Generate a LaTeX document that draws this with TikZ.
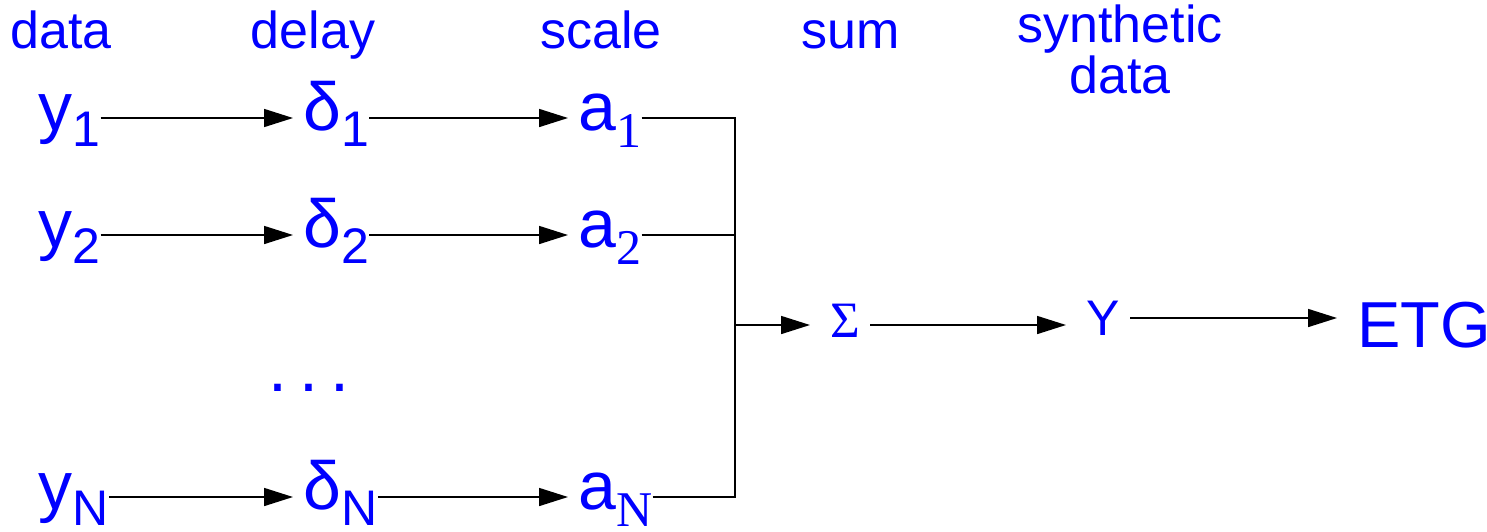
\documentclass[tikz,border=0pt]{standalone}
\usepackage{fontspec}
\setmainfont{Liberation Sans}
\newfontfamily\timesfont{Liberation Serif}
\usetikzlibrary{arrows.meta}

\newcommand{\lowsub}[1]{\raisebox{-8pt}{\fontsize{25}{25}\selectfont #1}}
\newcommand{\lowrsub}[1]{\raisebox{-8.5pt}{\timesfont\fontsize{25}{25}\selectfont #1}}

\tikzset{
  head/.style={text=blue, anchor=base, align=center, font=\fontsize{26}{23}\selectfont},
  var/.style={text=blue, anchor=base west, inner sep=0pt, text height=22pt, text depth=10pt, font=\fontsize{34}{40}\selectfont},
  outvar/.style={var, inner xsep=5pt},
  arr/.style={draw, thick, ->, shorten >=5pt},
}

\begin{document}
\begin{tikzpicture}[x=0.5pt, y=-0.5pt, > = {Triangle[length=14.5pt,width=9pt]}]
  \useasboundingbox (0,0) rectangle (1487,531);

  % column titles
  \node[head] (hdata) at (61,48) {data};
  \node[head] (hdelay) at (313,48) {delay};
  \node[head] (hscale) at (601,48) {scale};
  \node[head] (hsum) at (851,48) {sum};
  \node[head] (hsynth) at (1120,93) {synthetic\\data};

  % data, delay, scale
  \node[var] (y1) at (38,130) {y\lowsub{1}};
  \node[var] (d1) at (303,130) {δ\lowsub{1}};
  \node[var] (a1) at (578,130) {a\lowrsub{1}};

  \node[var] (y2) at (38,247) {y\lowsub{2}};
  \node[var] (d2) at (303,247) {δ\lowsub{2}};
  \node[var] (a2) at (578,247) {a\lowrsub{2}};

  \node[var] (dots) at (268,391) {.\hspace{6pt}.\hspace{6pt}.};

  \node[var] (yN) at (38,509) {y\lowsub{N}};
  \node[var] (dN) at (303,509) {δ\lowsub{N}};
  \node[var] (aN) at (578,509) {a\lowrsub{N}};

  % sum and output
  \coordinate (bus) at (735,325);
  \node[outvar, font=\timesfont\fontsize{25.5}{30}\selectfont] (sum) at (820,337) {Σ};
  \node[outvar, font=\fontsize{25}{30}\selectfont] (Y) at (1076,335) {Y};
  \node[outvar, font=\fontsize{32.5}{36}\selectfont] (ETG) at (1347,347) {ETG};

  \foreach \i in {1,2,N} {
    \path[arr] (y\i) -- (d\i);
    \path[arr] (d\i) -- (a\i);
    \path[draw,semithick] (a\i) -| (bus);
  }
  \path[arr] (bus) -- (sum);
  \path[arr] (sum) -- (Y.west |- sum);
  \path[arr] (Y.east |- 0,318) -- (ETG.west |- 0,318);
\end{tikzpicture}
\end{document}
